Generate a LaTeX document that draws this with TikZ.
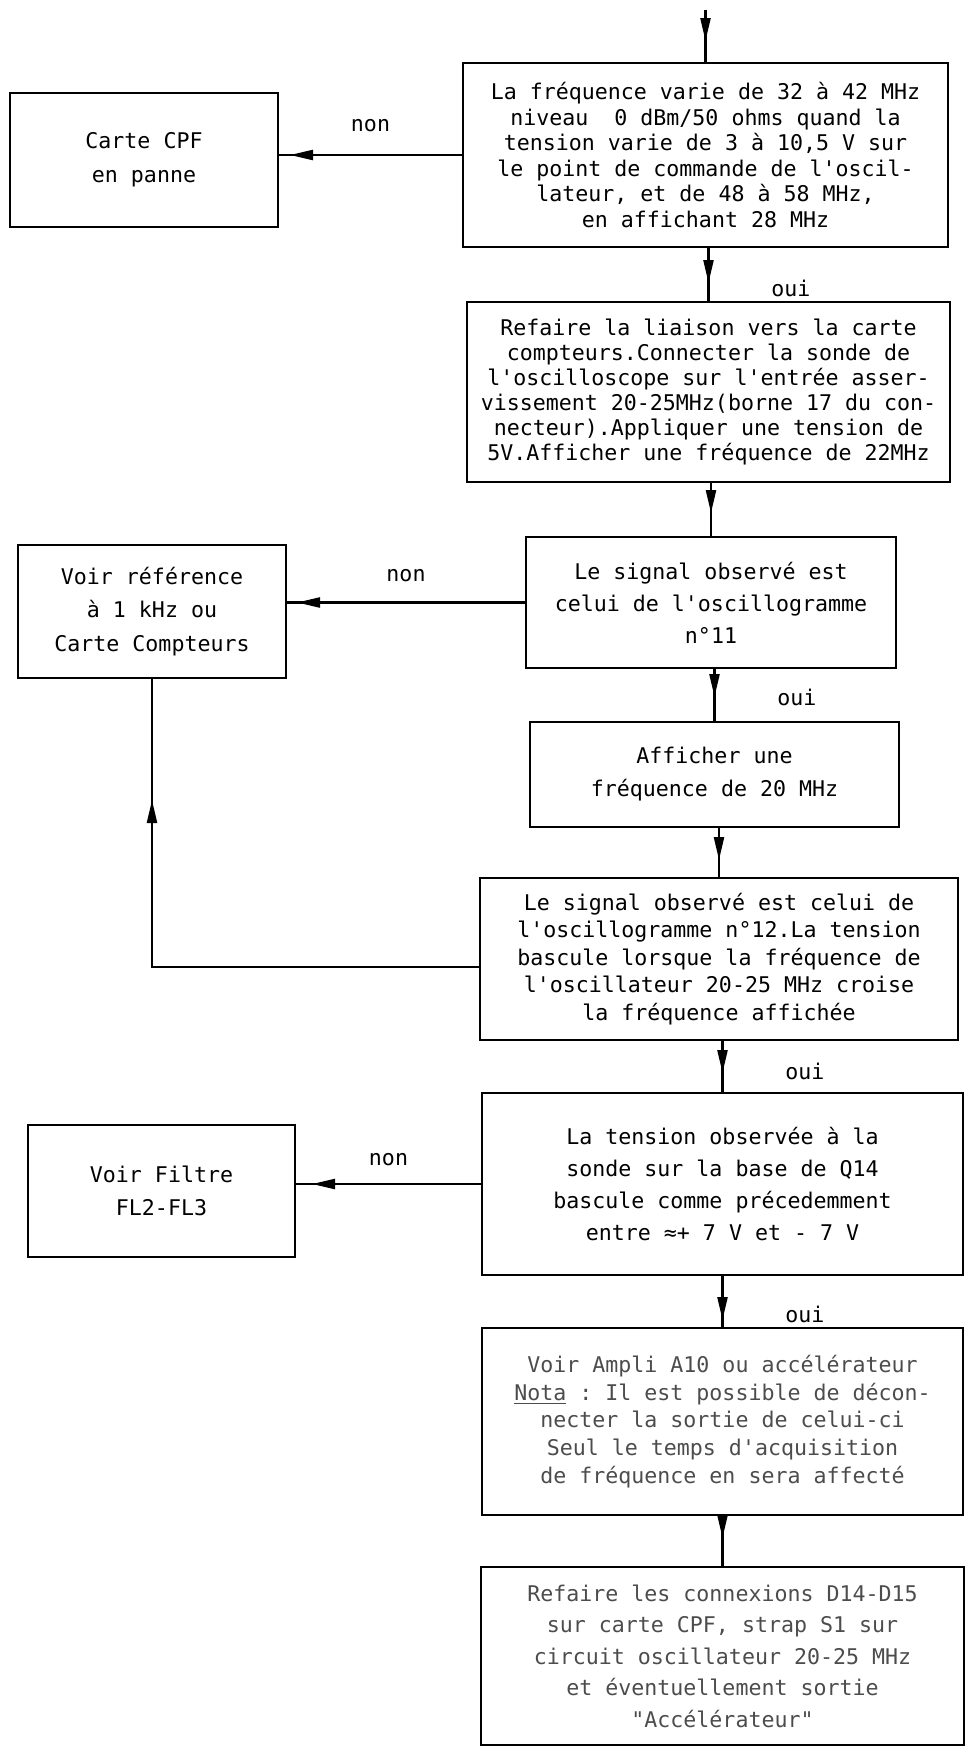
\documentclass[tikz,border=0pt]{standalone}
\usepackage{fontspec}
\setmonofont{DejaVu Sans Mono}
\usepackage{tikz}
\usetikzlibrary{arrows.meta,positioning,decorations.markings}

\begin{document}
\begin{tikzpicture}[
    box/.style={draw, line width=1.6pt, outer sep=0pt, align=center, inner sep=2pt, font=\ttfamily\fontsize{12.3}{#1}\selectfont},
    box/.default=15pt,
    lbl/.style={inner sep=1pt, font=\ttfamily\fontsize{12.3}{15}\selectfont},
    flow/.style={line width=1.3pt},
    headat/.style={decoration={markings, mark=at position #1 with {\arrow{Triangle[length=0.46cm,width=0.2cm]}}}, postaction={decorate}},
    node distance=1.1cm
]
    \useasboundingbox (0,0) rectangle (19.32,-35.04);

    \node[box=14.6pt, minimum width=9.7cm, minimum height=3.68cm] (freq) at (14.11,-3.10)
        {La fréquence varie de 32 à 42 MHz\\ niveau~~0 dBm/50 ohms quand la\\ tension varie de 3 à 10,5 V sur\\ le point de commande de l'oscil-\\ lateur, et de 48 à 58 MHz,\\ en affichant 28 MHz};
    \node[box=14.3pt, minimum width=9.66cm, minimum height=3.6cm, below=1.1cm of freq, xshift=0.06cm] (liaison)
        {Refaire la liaison vers la carte\\ compteurs.Connecter la sonde de\\ l'oscilloscope sur l'entrée asser-\\ vissement 20-25MHz(borne 17 du con-\\ necteur).Appliquer une tension de\\ 5V.Afficher une fréquence de 22MHz};
    \node[box=18.2pt, minimum width=7.4cm, minimum height=2.62cm, below=1.1cm of liaison, xshift=0.05cm] (sig11)
        {Le signal observé est\\ celui de l'oscillogramme\\ n°11};
    \node[box=18.8pt, minimum width=7.38cm, minimum height=2.1cm, below=1.08cm of sig11, xshift=0.07cm] (aff20)
        {Afficher une\\ fréquence de 20 MHz};
    \node[box=15.6pt, minimum width=9.56cm, minimum height=3.24cm, below=1.02cm of aff20, xshift=0.09cm] (sig12)
        {Le signal observé est celui de\\ l'oscillogramme n°12.La tension\\ bascule lorsque la fréquence de\\ l'oscillateur 20-25 MHz croise\\ la fréquence affichée};
    \node[box=18.2pt, minimum width=9.62cm, minimum height=3.64cm, below=1.06cm of sig12, xshift=0.07cm] (q14)
        {La tension observée à la\\ sonde sur la base de Q14\\ bascule comme précedemment\\ entre ≈+ 7 V et - 7 V};
    \node[box=15.8pt, text=black!70, minimum width=9.62cm, minimum height=3.74cm, below=1.06cm of q14] (ampli)
        {Voir Ampli A10 ou accélérateur\\ \underline{Nota} : Il est possible de décon-\\ necter la sortie de celui-ci\\ Seul le temps d'acquisition\\ de fréquence en sera affecté};
    \node[box=17.9pt, text=black!70, minimum width=9.66cm, minimum height=3.56cm, below=1.04cm of ampli] (strap)
        {Refaire les connexions D14-D15\\ sur carte CPF, strap S1 sur\\ circuit oscillateur 20-25 MHz\\ et éventuellement sortie\\ "Accélérateur"};

    \node[box=19.3pt, minimum width=5.36cm, minimum height=2.68cm, left=3.7cm of freq, yshift=-0.1cm] (cpf)
        {Carte CPF\\ en panne};
    \node[box=19pt, minimum width=5.36cm, minimum height=2.66cm, left=4.8cm of sig11, yshift=-0.18cm] (ref)
        {Voir référence\\ à 1 kHz ou\\ Carte Compteurs};
    \node[box=18.8pt, minimum width=5.34cm, minimum height=2.64cm, left=3.74cm of q14, yshift=-0.14cm] (filtre)
        {Voir Filtre\\ FL2-FL3};

    \coordinate[above=1.06cm of freq] (entry);

    % main column
    \draw[flow, headat=-0.44cm] (entry) -- (freq);
    \draw[flow, headat=-0.38cm] (liaison.north |- freq.south) -- (liaison.north)
        node[lbl, pos=0.75, right=1.2cm] (oui1) {oui};
    \draw[flow, headat=-0.48cm] (sig11.north |- liaison.south) -- (sig11.north);
    \draw[flow, headat=-0.5cm] (aff20.north |- sig11.south) -- (aff20.north)
        node[lbl, pos=0.55, right=1.2cm] (oui2) {oui};
    \draw[flow, headat=-0.36cm] (sig12.north |- aff20.south) -- (sig12.north);
    \draw[flow, headat=-0.4cm] (q14.north |- sig12.south) -- (q14.north)
        node[lbl, pos=0.6, right=1.2cm] (oui3) {oui};
    \draw[flow, headat=-0.16cm] (ampli.north |- q14.south) -- (ampli.north)
        node[lbl, pos=0.75, right=1.2cm] (oui4) {oui};
    \draw[flow, headat=-0.58cm] (strap.north |- ampli.south) -- (strap.north);

    % branches non
    \draw[flow, headat=-0.24cm] (freq.west) -- (freq.west -| cpf.east)
        node[lbl, midway, above=0.4cm] (non1) {non};
    \draw[flow, headat=-0.22cm] (sig11.west) -- (sig11.west -| ref.east)
        node[lbl, midway, above=0.36cm] (non2) {non};
    \draw[flow, headat=-0.34cm] (q14.west) -- (q14.west -| filtre.east)
        node[lbl, midway, above=0.3cm] (non3) {non};
    \draw[flow, headat=-2.44cm] ([yshift=-0.16cm]sig12.west) -| (ref.south);
\end{tikzpicture}
\end{document}
